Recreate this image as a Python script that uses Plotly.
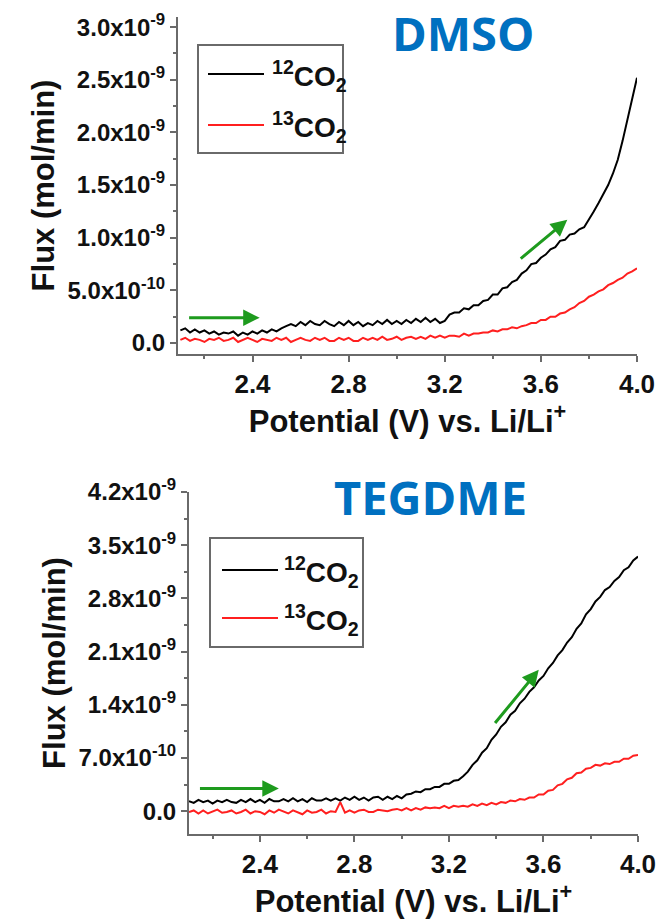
import plotly.graph_objects as go

# ---------------- data (flux in units of 1e-9 mol/min) ----------------
POTENTIAL = [2.10, 2.12, 2.14, 2.16, 2.18, 2.20, 2.22, 2.24, 2.26, 2.28,
             2.30, 2.32, 2.34, 2.36, 2.38, 2.40, 2.42, 2.44, 2.46, 2.48,
             2.50, 2.52, 2.54, 2.56, 2.58, 2.60, 2.62, 2.64, 2.66, 2.68,
             2.70, 2.72, 2.74, 2.76, 2.78, 2.80, 2.82, 2.84, 2.86, 2.88,
             2.90, 2.92, 2.94, 2.96, 2.98, 3.00, 3.02, 3.04, 3.06, 3.08,
             3.10, 3.12, 3.14, 3.16, 3.18, 3.20, 3.22, 3.24, 3.26, 3.28,
             3.30, 3.32, 3.34, 3.36, 3.38, 3.40, 3.42, 3.44, 3.46, 3.48,
             3.50, 3.52, 3.54, 3.56, 3.58, 3.60, 3.62, 3.64, 3.66, 3.68,
             3.70, 3.72, 3.74, 3.76, 3.78, 3.80, 3.82, 3.84, 3.86, 3.88,
             3.90, 3.92, 3.94, 3.96, 3.98, 4.00]

DMSO_12CO2 = [0.12, 0.14, 0.10, 0.13, 0.10, 0.12, 0.09, 0.11, 0.08, 0.10,
              0.09, 0.11, 0.07, 0.10, 0.08, 0.11, 0.09, 0.12, 0.10, 0.13,
              0.11, 0.14, 0.16, 0.18, 0.16, 0.20, 0.17, 0.21, 0.18, 0.17,
              0.21, 0.18, 0.16, 0.20, 0.17, 0.21, 0.17, 0.20, 0.16, 0.19,
              0.17, 0.21, 0.18, 0.22, 0.18, 0.21, 0.18, 0.22, 0.19, 0.23,
              0.20, 0.24, 0.20, 0.23, 0.19, 0.21, 0.27, 0.29, 0.29, 0.33,
              0.32, 0.36, 0.36, 0.40, 0.41, 0.46, 0.46, 0.52, 0.53, 0.58,
              0.60, 0.66, 0.69, 0.75, 0.76, 0.81, 0.84, 0.89, 0.91, 0.97,
              0.98, 1.03, 1.04, 1.08, 1.10, 1.17, 1.25, 1.33, 1.41, 1.50,
              1.61, 1.74, 1.92, 2.12, 2.32, 2.52]

DMSO_13CO2 = [0.03, 0.05, 0.02, 0.04, 0.03, 0.01, 0.04, 0.03, 0.05, 0.02,
              0.03, 0.05, 0.01, 0.03, 0.05, 0.03, 0.01, 0.04, 0.03, 0.02,
              0.05, 0.03, 0.05, 0.01, 0.03, 0.05, 0.03, 0.02, 0.05, 0.03,
              0.05, 0.02, 0.02, 0.05, 0.03, 0.05, 0.02, 0.02, 0.05, 0.03,
              0.05, 0.03, 0.06, 0.03, 0.04, 0.06, 0.03, 0.05, 0.06, 0.04,
              0.06, 0.04, 0.07, 0.05, 0.07, 0.05, 0.07, 0.07, 0.06, 0.09,
              0.07, 0.09, 0.09, 0.10, 0.10, 0.12, 0.11, 0.13, 0.13, 0.15,
              0.14, 0.16, 0.17, 0.19, 0.19, 0.22, 0.22, 0.25, 0.25, 0.28,
              0.29, 0.32, 0.34, 0.38, 0.40, 0.44, 0.46, 0.49, 0.51, 0.55,
              0.57, 0.60, 0.62, 0.66, 0.68, 0.71]

TEGDME_12CO2 = [0.13, 0.11, 0.15, 0.12, 0.14, 0.10, 0.14, 0.12, 0.15, 0.12,
                0.11, 0.15, 0.12, 0.16, 0.12, 0.15, 0.11, 0.16, 0.13, 0.13,
                0.16, 0.13, 0.17, 0.13, 0.16, 0.12, 0.17, 0.14, 0.14, 0.17,
                0.14, 0.17, 0.14, 0.18, 0.15, 0.19, 0.15, 0.18, 0.14, 0.18,
                0.19, 0.15, 0.19, 0.16, 0.20, 0.17, 0.22, 0.23, 0.26, 0.25,
                0.29, 0.29, 0.32, 0.32, 0.36, 0.36, 0.40, 0.41, 0.46, 0.52,
                0.61, 0.67, 0.77, 0.83, 0.94, 1.01, 1.11, 1.17, 1.27, 1.32,
                1.42, 1.48, 1.57, 1.63, 1.72, 1.78, 1.88, 1.95, 2.05, 2.12,
                2.22, 2.29, 2.40, 2.47, 2.59, 2.66, 2.76, 2.82, 2.91, 2.95,
                3.03, 3.08, 3.17, 3.21, 3.30, 3.35]

TEGDME_13CO2 = [-0.01, 0.01, -0.03, 0.01, -0.03, -0.01, 0.02, -0.02, -0.01, 0.01,
                -0.03, -0.01, 0.02, -0.03, 0.00, -0.01, -0.04, 0.01, -0.02, 0.02,
                -0.01, -0.03, 0.01, -0.01, -0.04, 0.01, -0.02, -0.01, 0.02, -0.03,
                0.00, -0.01, 0.12, -0.02, 0.01, -0.02, 0.01, 0.02, -0.01, -0.01,
                0.02, 0.01, 0.00, 0.02, 0.03, 0.01, 0.04, 0.01, 0.04, 0.02,
                0.05, 0.04, 0.05, 0.04, 0.07, 0.04, 0.07, 0.06, 0.07, 0.06,
                0.09, 0.07, 0.10, 0.08, 0.11, 0.09, 0.12, 0.11, 0.14, 0.13,
                0.16, 0.15, 0.18, 0.18, 0.22, 0.22, 0.27, 0.28, 0.34, 0.36,
                0.42, 0.44, 0.50, 0.51, 0.56, 0.57, 0.61, 0.60, 0.63, 0.62,
                0.65, 0.65, 0.69, 0.69, 0.73, 0.74]

SCALE = 1e-9

X_TICKS = [2.4, 2.8, 3.2, 3.6, 4.0]
X_TICK_TEXT = ["2.4", "2.8", "3.2", "3.6", "4.0"]
X_MINOR = [2.2, 2.6, 3.0, 3.4, 3.8]

TOP_Y_TICKS = [0.0, 0.5, 1.0, 1.5, 2.0, 2.5, 3.0]
TOP_Y_TEXT = ["0.0", "5.0x10<sup>-10</sup>", "1.0x10<sup>-9</sup>", "1.5x10<sup>-9</sup>",
              "2.0x10<sup>-9</sup>", "2.5x10<sup>-9</sup>", "3.0x10<sup>-9</sup>"]
TOP_Y_MINOR = [0.25, 0.75, 1.25, 1.75, 2.25, 2.75]

BOT_Y_TICKS = [0.0, 0.7, 1.4, 2.1, 2.8, 3.5, 4.2]
BOT_Y_TEXT = ["0.0", "7.0x10<sup>-10</sup>", "1.4x10<sup>-9</sup>", "2.1x10<sup>-9</sup>",
              "2.8x10<sup>-9</sup>", "3.5x10<sup>-9</sup>", "4.2x10<sup>-9</sup>"]
BOT_Y_MINOR = [0.35, 1.05, 1.75, 2.45, 3.15, 3.85]

# direction arrows: (x_start, y_start, x_end, y_end), y in 1e-9 units
TOP_ARROWS = [(2.13, 0.24, 2.43, 0.24), (3.51, 0.79, 3.71, 1.17)]
BOT_ARROWS = [(2.14, 0.30, 2.48, 0.30), (3.39, 1.14, 3.58, 1.86)]

SERIES_NAMES = ["<sup>12</sup>CO<sub>2</sub>", "<sup>13</sup>CO<sub>2</sub>"]
PANEL_TITLES = ["DMSO", "TEGDME"]

# ---------------- figure ----------------
W, H = 659, 919
BLACK = "#000000"
RED = "#FF1F1F"
GREEN = "#1E9B1E"
AXIS_GREY = "#6a6a6a"
BLUE = "#0070C0"
FONT = "Liberation Sans, Arial, sans-serif"
TXT = "#111111"


def sc(v):
    return [a * SCALE for a in v]


def px_x(p):
    return p / W


def px_y(p):
    return 1 - p / H


fig = go.Figure()
for xa, ya, s12, s13 in (("x", "y", DMSO_12CO2, DMSO_13CO2), ("x2", "y2", TEGDME_12CO2, TEGDME_13CO2)):
    fig.add_trace(go.Scatter(x=POTENTIAL, y=sc(s12), mode="lines", xaxis=xa, yaxis=ya,
                             line=dict(color=BLACK, width=2), showlegend=False))
    fig.add_trace(go.Scatter(x=POTENTIAL, y=sc(s13), mode="lines", xaxis=xa, yaxis=ya,
                             line=dict(color=RED, width=2), showlegend=False))

axis_common = dict(showline=True, linecolor=AXIS_GREY, linewidth=2, ticks="outside",
                   ticklen=6, tickwidth=2, tickcolor=AXIS_GREY, showgrid=False,
                   zeroline=False, mirror=False, automargin=False)

x_common = dict(axis_common, tickmode="array", tickvals=X_TICKS, ticktext=X_TICK_TEXT,
                tickfont=dict(family=FONT, size=26, color=TXT, weight="bold"),
                minor=dict(tickmode="array", tickvals=X_MINOR, ticks="outside", ticklen=3,
                           tickwidth=2, tickcolor=AXIS_GREY),
                title=dict(text="Potential (V) vs. Li/Li<sup>+</sup>",
                           font=dict(family=FONT, size=31, color=TXT, weight="bold"), standoff=8))


def y_axis(ticks, texts, minor, rng, dom, anchor):
    return dict(axis_common, domain=dom, range=rng, anchor=anchor,
                tickmode="array", tickvals=sc(ticks), ticktext=texts,
                tickfont=dict(family=FONT, size=24, color=TXT, weight="bold"),
                minor=dict(tickmode="array", tickvals=sc(minor), ticks="outside", ticklen=3,
                           tickwidth=2, tickcolor=AXIS_GREY),
                title=dict(text="Flux (mol/min)",
                           font=dict(family=FONT, size=31, color=TXT, weight="bold"), standoff=4))


fig.update_layout(
    width=W, height=H,
    margin=dict(l=0, r=0, t=0, b=0, autoexpand=False),
    paper_bgcolor="white", plot_bgcolor="white",
    font=dict(family=FONT, color=TXT),
    xaxis=dict(x_common, domain=[px_x(178), px_x(637)], range=[2.09, 4.0], anchor="y"),
    yaxis=y_axis(TOP_Y_TICKS, TOP_Y_TEXT, TOP_Y_MINOR, [-0.104e-9, 3.096e-9],
                 [px_y(354), px_y(17)], "x"),
    xaxis2=dict(x_common, domain=[px_x(189), px_x(638)], range=[2.10, 4.0], anchor="y2"),
    yaxis2=y_axis(BOT_Y_TICKS, BOT_Y_TEXT, BOT_Y_MINOR, [-0.3e-9, 4.2e-9],
                  [px_y(834), px_y(492)], "x2"),
)

annotations = []
for arrows, xr, yr in ((TOP_ARROWS, "x", "y"), (BOT_ARROWS, "x2", "y2")):
    for x0, y0, x1, y1 in arrows:
        annotations.append(dict(x=x1, y=y1 * SCALE, ax=x0, ay=y0 * SCALE, xref=xr, yref=yr,
                                axref=xr, ayref=yr, text="", showarrow=True, arrowhead=2,
                                arrowsize=1.1, arrowwidth=3, arrowcolor=GREEN, standoff=0))

# panel titles
TITLE_FONT = dict(family="Open Sans, Noto Sans, sans-serif", size=47, color=BLUE, weight="bold")
annotations.append(dict(x=px_x(463), y=px_y(33), xref="paper", yref="paper", text=PANEL_TITLES[0],
                        showarrow=False, font=TITLE_FONT, xanchor="center", yanchor="middle"))
annotations.append(dict(x=px_x(430), y=px_y(497), xref="paper", yref="paper", text=PANEL_TITLES[1],
                        showarrow=False, font=TITLE_FONT, xanchor="center", yanchor="middle"))

# legends (drawn as boxes with sample lines and labels)
shapes = []
legend_specs = [
    dict(box=(198, 45, 343, 153), rows=(74, 125), line_x=(208, 264), text_x=270),
    dict(box=(210, 538, 363, 647), rows=(570, 618), line_x=(222, 278), text_x=282),
]
for spec in legend_specs:
    bx0, by0, bx1, by1 = spec["box"]
    shapes.append(dict(type="rect", xref="paper", yref="paper", x0=px_x(bx0), x1=px_x(bx1),
                       y0=px_y(by1), y1=px_y(by0), line=dict(color=AXIS_GREY, width=2),
                       fillcolor="rgba(0,0,0,0)"))
    for ry, col, name in zip(spec["rows"], (BLACK, RED), SERIES_NAMES):
        lx0, lx1 = spec["line_x"]
        shapes.append(dict(type="line", xref="paper", yref="paper", x0=px_x(lx0), x1=px_x(lx1),
                           y0=px_y(ry), y1=px_y(ry), line=dict(color=col, width=2)))
        annotations.append(dict(x=px_x(spec["text_x"]), y=px_y(ry + 2), xref="paper", yref="paper",
                                text=name, showarrow=False, xanchor="left", yanchor="middle",
                                font=dict(family=FONT, size=28, color=TXT, weight="bold")))

fig.update_layout(annotations=annotations, shapes=shapes)

fig.write_html("out.html")
